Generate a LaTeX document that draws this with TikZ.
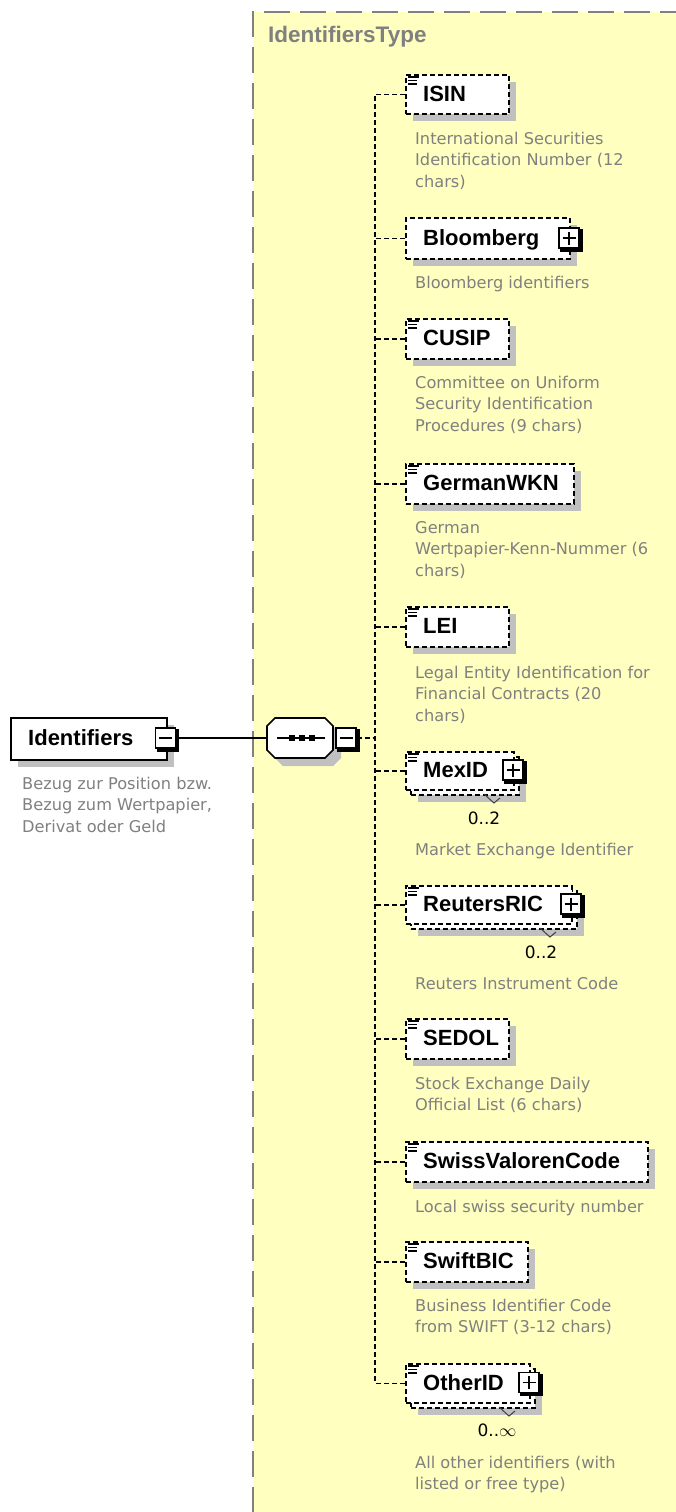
\documentclass[tikz,border=0pt]{standalone}
\usepackage{fontspec}
\setmainfont{DejaVu Sans}
\newfontfamily\lblfam{Liberation Sans}
\usetikzlibrary{calc}
\definecolor{bgyellow}{RGB}{255,255,192}
\definecolor{shadowc}{RGB}{192,192,192}
\definecolor{desccol}{RGB}{128,128,128}
\definecolor{framecol}{RGB}{128,128,128}
\tikzset{
 ebox/.style={draw=black, fill=white, line width=1.7pt, dash pattern=on 5pt off 3pt, rectangle, inner sep=0pt, anchor=north west},
 rbox/.style={draw=black, fill=white, line width=1.7pt, rectangle, inner sep=0pt, anchor=north west},
 lbl/.style={font=\lblfam\bfseries\fontsize{22}{26}\selectfont, anchor=base west, inner sep=0pt, text=black},
 desc/.style={font=\fontsize{16.2}{21.8}\selectfont, text=desccol, align=left, anchor=north west, inner sep=0pt},
 mult/.style={font=\fontsize{17}{20}\selectfont, anchor=base, inner sep=0pt, text=black},
 dconn/.style={draw=black, line width=1.7pt, dash pattern=on 5pt off 3pt},
 sconn/.style={draw=black, line width=1.7pt},
 pmbox/.style={draw=black, fill=white, line width=1.2pt, minimum size=20pt, inner sep=0pt, rectangle},
}
\newcommand\mkelem[5]{%
 \fill[shadowc] (413,#2+8) rectangle (#3+8,#4+8);
 \node[ebox, minimum width={(#3-405)*1pt}, minimum height={(#4-#2)*1pt}] (#1) at (405,#2) {};
 \node[lbl] (#1-l) at (423,{(#2+#4)/2+7.9}) {#5};
}
\newcommand\mkmulti[5]{%
 \fill[shadowc] (418,#2+13) rectangle (#3+13,#4+13);
 \node[ebox, minimum width={(#3-405)*1pt}, minimum height={(#4-#2)*1pt}] (#1-back) at (410,#2+5) {};
 \node[ebox, minimum width={(#3-405)*1pt}, minimum height={(#4-#2)*1pt}] (#1) at (405,#2) {};
 \node[lbl] (#1-l) at (423,{(#2+#4)/2+7.9}) {#5};
}
\newcommand\mkicon[1]{%
 \draw[line width=1.1pt] ($(#1.north west)+(3,3)$) -- ++(11,0);
 \draw[line width=1.1pt] ($(#1.north west)+(3,6.5)$) -- ++(9,0);
 \draw[line width=1.1pt] ($(#1.north west)+(3,10)$) -- ++(9,0);
}
\newcommand\mkpm[4]{% name, x, y, plus(1)/minus(0)
 \node[pmbox] (#1) at (#2,#3) {};
 \draw[line width=3pt] ($(#1.north east)+(1.5,2)$) -- ($(#1.south east)+(1.5,1.5)$) -- ($(#1.south west)+(2,1.5)$);
 \draw[line width=1.4pt] ($(#1.center)+(-6.5,0)$) -- ($(#1.center)+(6.5,0)$);
 \ifnum#4=1 \draw[line width=1.4pt] ($(#1.center)+(0,-6.5)$) -- ($(#1.center)+(0,6.5)$);\fi
}
\newcommand\mkvee[2]{%
 \draw[line width=1pt, black!75] (#1,#2) -- (#1+10,#2+9) -- (#1+16,#2+4);
}
\begin{document}
\begin{tikzpicture}[x=1pt,y=-1pt]
\useasboundingbox (0,0) rectangle (675,1512);
\fill[white] (0,0) rectangle (675,1512);
% type region
\fill[bgyellow] (253,12) rectangle (676,1513);
\draw[framecol, line width=1.8pt, dash pattern=on 26pt off 10pt] (253,1513) -- (253,12) -- (676,12);
\node[lbl, text=framecol, font=\lblfam\bfseries\fontsize{22.5}{26}\selectfont] (title) at (268,43) {IdentifiersType};

% root element
\fill[shadowc] (18,725) rectangle (174,767);
\node[rbox, minimum width=156pt, minimum height=42pt] (ident) at (10,717) {};
\node[lbl] (ident-l) at (28,745.9) {Identifiers};
\mkpm{imin}{165.5}{738}{0}
\node[desc] (ident-d) at (22,773.7) {\strut Bezug zur Position bzw.\\Bezug zum Wertpapier,\\Derivat oder Geld};

% sequence compositor
\fill[shadowc, shift={(8,8)}] (275,718) -- (325,718) -- (333,726) -- (333,750) -- (325,758) -- (275,758) -- (267,750) -- (267,726) -- cycle;
\draw[line width=1.7pt, fill=white] (275,718) -- (325,718) -- (333,726) -- (333,750) -- (325,758) -- (275,758) -- (267,750) -- (267,726) -- cycle;
\node[inner sep=0pt, minimum width=66pt, minimum height=40pt] (seq) at (300,738) {};
\draw[line width=1.7pt] (277,738) -- (325,738);
\fill (289,735) rectangle (295,741);
\fill (299,735) rectangle (305,741);
\fill (309,735) rectangle (315,741);
\mkpm{smin}{346}{738}{0}
\draw[sconn] (imin.east) -- (seq.west);

% children
\mkelem{isin}{74}{508}{113}{ISIN}\mkicon{isin}
\node[desc] (isin-d) at (415,128.7) {\strut International Securities\\Identification Number (12\\chars)};

\mkelem{bloomberg}{217}{569}{258}{Bloomberg}
\mkpm{bloomberg-p}{569}{238}{1}
\node[desc] (bloomberg-d) at (415,272.7) {\strut Bloomberg identifiers};

\mkelem{cusip}{318}{508}{358}{CUSIP}\mkicon{cusip}
\node[desc] (cusip-d) at (415,372.7) {\strut Committee on Uniform\\Security Identification\\Procedures (9 chars)};

\mkelem{germanwkn}{463}{573}{503}{GermanWKN}\mkicon{germanwkn}
\node[desc] (germanwkn-d) at (415,517.7) {\strut German\\Wertpapier-Kenn-Nummer (6\\chars)};

\mkelem{lei}{606}{508}{646}{LEI}\mkicon{lei}
\node[desc] (lei-d) at (415,662.7) {\strut Legal Entity Identification for\\Financial Contracts (20\\chars)};

\mkmulti{mexid}{751}{513}{789}{MexID}\mkicon{mexid}
\mkpm{mexid-p}{513}{770}{1}
\mkvee{484}{794}
\node[mult] (mexid-m) at (484,824) {0..2};
\node[desc] (mexid-d) at (415,839.7) {\strut Market Exchange Identifier};

\mkmulti{reutersric}{885}{571}{923}{ReutersRIC}\mkicon{reutersric}
\mkpm{reutersric-p}{571}{904}{1}
\mkvee{540}{928}
\node[mult] (reutersric-m) at (541,958) {0..2};
\node[desc] (reutersric-d) at (415,973.7) {\strut Reuters Instrument Code};

\mkelem{sedol}{1018}{508}{1058}{SEDOL}\mkicon{sedol}
\node[desc] (sedol-d) at (415,1073.7) {\strut Stock Exchange Daily\\Official List (6 chars)};

\mkelem{swiss}{1141}{647}{1181}{SwissValorenCode}\mkicon{swiss}
\node[desc] (swiss-d) at (415,1196.7) {\strut Local swiss security number};

\mkelem{swiftbic}{1241}{527}{1281}{SwiftBIC}\mkicon{swiftbic}
\node[desc] (swiftbic-d) at (415,1295.7) {\strut Business Identifier Code\\from SWIFT (3-12 chars)};

\mkmulti{otherid}{1363}{529}{1402}{OtherID}\mkicon{otherid}
\mkpm{otherid-p}{529}{1382.5}{1}
\mkvee{499}{1407}
\node[mult] (otherid-m) at (497,1436) {0..\(\infty\)};
\node[desc] (otherid-d) at (415,1452.7) {\strut All other identifiers (with\\listed or free type)};

% connectors
\coordinate (spine) at (375,93.5);
\draw[dconn] (isin.west) -- (isin.west -| spine) -- (otherid.west -| spine) -- (otherid.west);
\foreach \n in {bloomberg,cusip,germanwkn,lei,mexid,reutersric,sedol,swiss,swiftbic}
  \draw[dconn] (\n.west) -- (\n.west -| spine);
\draw[dconn] (smin.east) -- (smin.east -| spine);
\end{tikzpicture}
\end{document}
